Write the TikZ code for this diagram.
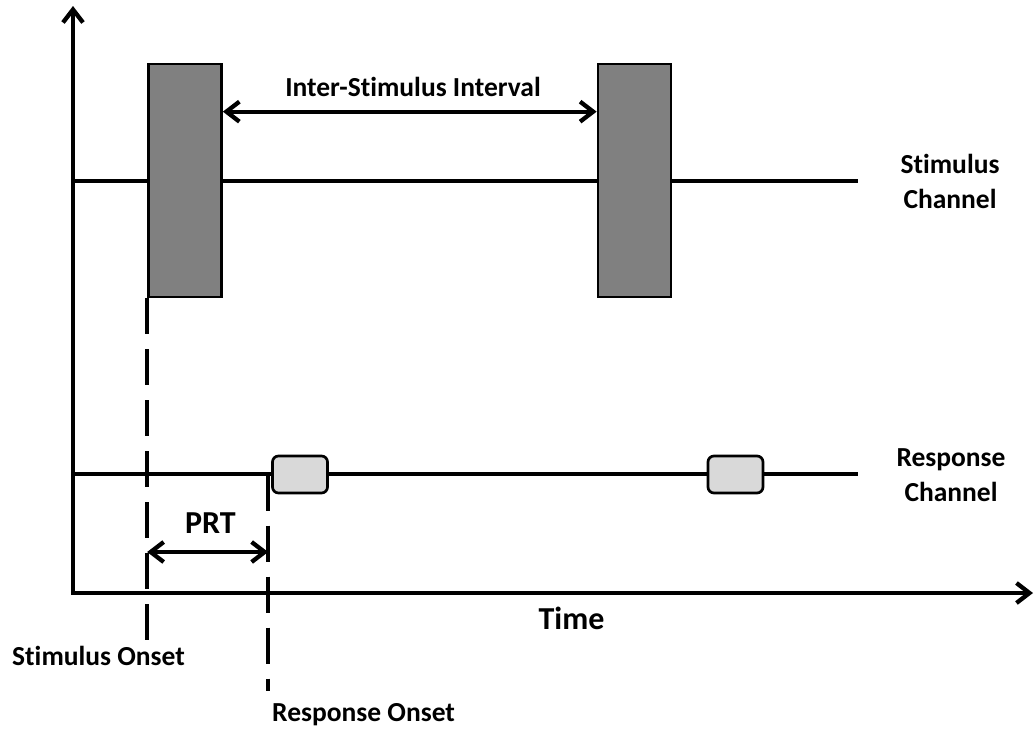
\documentclass[tikz,border=0pt]{standalone}
\usepackage{fontspec}
\setmainfont{Carlito}[Ligatures=NoCommon]
\usetikzlibrary{arrows.meta}
\begin{document}
\begin{tikzpicture}[x=1pt,y=-1pt,
  >={Straight Barb[length=13pt,width=20pt,line width=4.3pt]},
  mainline/.style={line width=4.3pt,line cap=butt},
  stimbox/.style={draw,line width=2.7pt,fill=stimgray,minimum width=73pt,minimum height=233pt,inner sep=0pt},
  respbox/.style={draw,line width=2.7pt,fill=respgray,rounded corners=6pt,minimum width=55pt,minimum height=37pt,inner sep=0pt},
  onset/.style={line width=4.3pt,dash pattern=on 36pt off 15pt},
  lbl/.style={font=\fontsize{27.5}{35}\selectfont\bfseries,inner sep=0pt},
  biglbl/.style={font=\fontsize{32}{38}\selectfont\bfseries,inner sep=0pt},
]
\definecolor{stimgray}{RGB}{128,128,128}
\definecolor{respgray}{RGB}{217,217,217}
\useasboundingbox (0,0) rectangle (1034,729);

% axes
\coordinate (O) at (73,593);
\coordinate (ytop) at (73,6);
\coordinate (xend) at (1033,593);
\draw[mainline,<->,line join=miter] (ytop) -- (O) -- (xend);

% channel lines
\coordinate (sc0) at (73,181);
\coordinate (sc1) at (858,181);
\coordinate (rc0) at (73,474);
\coordinate (rc1) at (858,474);
\draw[mainline] (sc0) -- (sc1);
\draw[mainline] (rc0) -- (rc1);

% stimulus boxes
\node[stimbox] (stim1) at (185,180.5) {};
\node[stimbox] (stim2) at (634.5,180.5) {};

% response boxes
\node[respbox] (resp1) at (300,474.5) {};
\node[respbox] (resp2) at (735.5,474.5) {};

% onset dashed lines
\coordinate (so0) at (stim1.south west);
\coordinate (so1) at ([yshift=-347pt]stim1.south west);
\draw[onset] (so0) -- (so1);
\coordinate (ro0) at ([xshift=-3pt]resp1.west);
\coordinate (ro1) at ([xshift=-3pt,yshift=-216pt]resp1.west);
\draw[onset] (ro0) -- (ro1);

% ISI arrow
\coordinate (isiL) at ([yshift=-49pt]stim1.north east);
\coordinate (isiR) at ([yshift=-49pt]stim2.north west);
\draw[mainline,<->] (isiL) -- (isiR);
\node[lbl,anchor=base] (isi) at (413,96) {Inter-Stimulus Interval};

% PRT arrow
\coordinate (prtL) at (so0 |- 0,552);
\coordinate (prtR) at (ro0 |- 0,552);
\draw[mainline,<->] (prtL) -- (prtR);
\node[biglbl,anchor=base] (prt) at (210.5,533) {PRT};

% labels
\node[lbl,align=center] (stimch) at (950,181) {Stimulus\\Channel};
\node[lbl,align=center] (respch) at (951,475) {Response\\Channel};
\node[biglbl,anchor=base] (time) at (571.5,629) {Time};
\node[lbl,anchor=base] (stimon) at (98.5,665) {Stimulus Onset};
\node[lbl,anchor=base west] (respon) at (272,721) {Response Onset};
\end{tikzpicture}
\end{document}
